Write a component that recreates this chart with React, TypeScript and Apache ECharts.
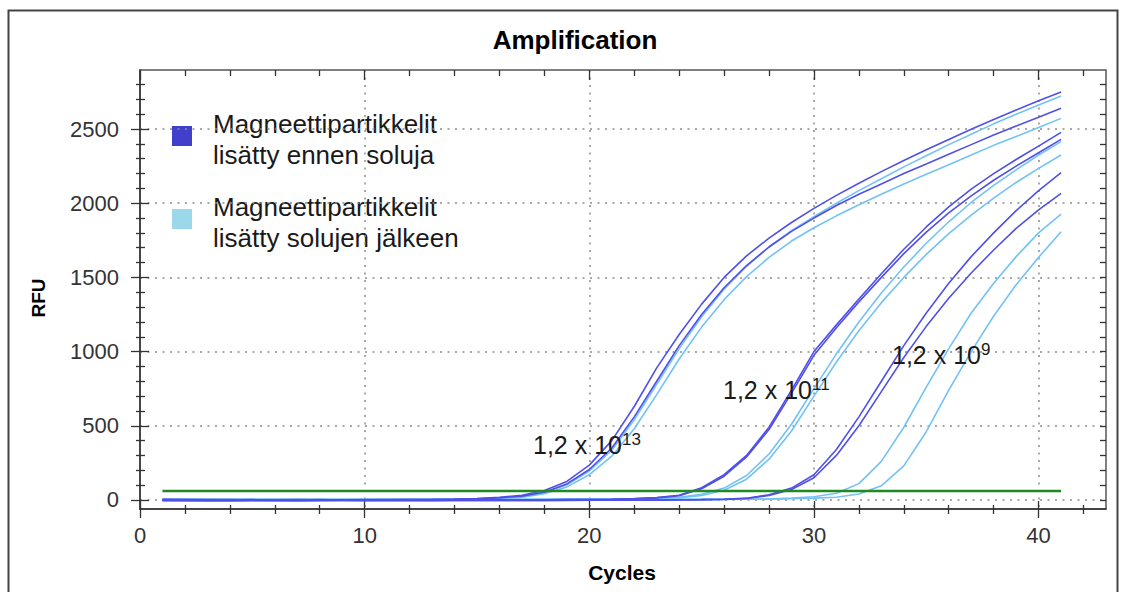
import { useEffect, useRef } from "react";
import * as echarts from "echarts";

const FONT = '"Liberation Sans", Arial, Helvetica, sans-serif';

// PCR cycles on the x axis
const CYCLES = [
  1, 2, 3, 4, 5, 6, 7, 8, 9, 10, 11, 12, 13, 14, 15, 16, 17, 18, 19, 20, 21,
  22, 23, 24, 25, 26, 27, 28, 29, 30, 31, 32, 33, 34, 35, 36, 37, 38, 39, 40, 41,
];

// Axis ticks and labels
const X_TICKS = [0, 10, 20, 30, 40];
const X_MINOR = [2, 4, 6, 8, 12, 14, 16, 18, 22, 24, 26, 28, 32, 34, 36, 38, 42];
const Y_TICKS = [0, 500, 1000, 1500, 2000, 2500];
const Y_MINOR = [
  100, 200, 300, 400, 600, 700, 800, 900, 1100, 1200, 1300, 1400, 1600, 1700,
  1800, 1900, 2100, 2200, 2300, 2400, 2600, 2700, 2800,
];
const Y_ALL = [
  0, 100, 200, 300, 400, 500, 600, 700, 800, 900, 1000, 1100, 1200, 1300, 1400,
  1500, 1600, 1700, 1800, 1900, 2000, 2100, 2200, 2300, 2400, 2500, 2600, 2700,
  2800,
];
const X_RANGE = [0, 43];
const Y_RANGE = [-61, 2898];

// Detection threshold (RFU)
const THRESHOLD = 60;

// Magnetic particles added before the cells (RFU per cycle)
const BEFORE_13A = [
  4, 2, 3, 1, 2, 0, 1, 2, 0, 1, 2, 3, 4, 6, 10, 18, 32, 64, 125, 235, 400, 630,
  890, 1115, 1320, 1500, 1645, 1765, 1870, 1965, 2053, 2135, 2213, 2288, 2360,
  2430, 2498, 2564, 2628, 2690, 2750,
];
const BEFORE_13B = [
  2, 3, 1, 2, 0, 1, 2, 0, 1, 2, 1, 2, 3, 5, 8, 14, 26, 52, 108, 205, 350, 560,
  800, 1040, 1250, 1430, 1580, 1705, 1810, 1900, 1985, 2060, 2130, 2200, 2265,
  2330, 2395, 2460, 2520, 2580, 2640,
];
const BEFORE_11A = [
  -3, -2, -4, -3, -2, -3, -2, -3, -2, -1, -2, -3, -2, -1, -2, -1, 0, 1, 2, 3, 5,
  9, 16, 32, 82, 170, 300, 490, 740, 1000, 1180, 1355, 1525, 1690, 1840, 1975,
  2095, 2200, 2295, 2385, 2478,
];
const BEFORE_11B = [
  -2, -3, -2, -4, -3, -2, -3, -2, -1, -2, -3, -2, -1, -2, -1, 0, 1, 0, 2, 2, 4,
  8, 14, 28, 75, 160, 290, 475, 720, 975, 1160, 1335, 1500, 1660, 1805, 1935,
  2050, 2155, 2250, 2340, 2430,
];
const BEFORE_9A = [
  -4, -3, -5, -4, -3, -4, -5, -4, -3, -4, -3, -4, -5, -4, -3, -4, -3, -2, -3,
  -2, -1, -2, -1, 0, 2, 5, 12, 35, 80, 170, 340, 560, 800, 1040, 1260, 1460,
  1640, 1800, 1950, 2085, 2206,
];
const BEFORE_9B = [
  -3, -4, -3, -5, -4, -3, -4, -3, -4, -5, -4, -3, -4, -3, -2, -3, -4, -3, -2,
  -1, -2, -1, 0, 1, 2, 4, 10, 30, 70, 150, 300, 500, 730, 960, 1170, 1360, 1530,
  1685, 1830, 1955, 2067,
];

// Magnetic particles added after the cells (RFU per cycle)
const AFTER_13A = [
  0, 1, 2, 0, 1, 2, 0, 1, 2, 0, 1, 2, 3, 4, 7, 12, 24, 50, 102, 195, 335, 540,
  780, 1020, 1235, 1420, 1575, 1705, 1815, 1910, 2000, 2085, 2165, 2245, 2320,
  2395, 2465, 2535, 2600, 2662, 2722,
];
const AFTER_13B = [
  1, 0, 1, 2, 1, 0, 1, 2, 1, 0, 1, 1, 2, 3, 5, 9, 19, 42, 88, 170, 295, 480,
  710, 950, 1165, 1350, 1505, 1635, 1745, 1835, 1915, 1990, 2060, 2130, 2195,
  2260, 2325, 2390, 2450, 2510, 2572,
];
const AFTER_11A = [
  2, 3, 1, 2, 3, 2, 1, 2, 3, 2, 1, 2, 3, 2, 2, 3, 3, 4, 4, 5, 6, 6, 10, 18, 38,
  80, 165, 310, 510, 750, 985, 1200, 1395, 1570, 1730, 1875, 2005, 2120, 2225,
  2325, 2415,
];
const AFTER_11B = [
  1, 2, 2, 1, 3, 2, 2, 1, 2, 3, 2, 2, 1, 2, 3, 2, 3, 3, 4, 4, 5, 5, 8, 14, 30,
  65, 140, 275, 465, 700, 930, 1140, 1330, 1500, 1655, 1795, 1920, 2035, 2140,
  2235, 2325,
];
const AFTER_9A = [
  3, 2, 4, 3, 2, 3, 4, 3, 2, 3, 4, 3, 2, 3, 3, 4, 3, 2, 3, 4, 3, 4, 3, 4, 4, 5,
  5, 6, 12, 22, 45, 110, 260, 490, 760, 1020, 1260, 1460, 1640, 1800, 1927,
];
const AFTER_9B = [
  2, 3, 2, 3, 4, 3, 2, 3, 2, 3, 4, 3, 2, 2, 3, 3, 2, 3, 4, 3, 3, 4, 3, 3, 4, 4,
  5, 5, 8, 12, 18, 40, 95, 230, 460, 740, 1000, 1240, 1450, 1635, 1808,
];

const BEFORE_NAME = "Magneettipartikkelit\nlisätty ennen soluja";
const AFTER_NAME = "Magneettipartikkelit\nlisätty solujen jälkeen";
const BEFORE_CURVES = [BEFORE_13A, BEFORE_13B, BEFORE_11A, BEFORE_11B, BEFORE_9A, BEFORE_9B];
const AFTER_CURVES = [AFTER_13A, AFTER_13B, AFTER_11A, AFTER_11B, AFTER_9A, AFTER_9B];

// Dilution labels: [mantissa text, exponent, left, centre y]
const DILUTIONS: [string, string, number, number][] = [
  ["1,2 x 10", "13", 533, 445],
  ["1,2 x 10", "11", 723, 390],
  ["1,2 x 10", "9", 892, 355],
];

const BEFORE_COLOR = "#5050e8";
const AFTER_COLOR = "#72c2f6";
const BEFORE_KEY = "#4040cc";
const AFTER_KEY = "#9ad8ea";
const TEXT = "#1a1a1a";
const AXIS = "#333333";

const gridLine = { color: "#8c8c8c", width: 1.5, type: [2, 5.5] as number[] };

function tickAxis(position: string, range: number[], values: number[], length: number, inside: boolean) {
  return {
    type: "value",
    position,
    min: range[0],
    max: range[1],
    axisLine: { show: false, onZero: false },
    axisLabel: { show: false },
    splitLine: { show: false },
    axisTick: { show: true, inside, length, customValues: values, lineStyle: { color: AXIS, width: 1.3 } },
  };
}

function curveSeries(name: string, values: number[], color: string) {
  return {
    type: "line",
    name,
    data: CYCLES.map((c, i) => [c, values[i]]),
    showSymbol: false,
    symbol: "none",
    silent: true,
    lineStyle: { color, width: 1.6 },
    itemStyle: { color },
    z: 3,
  };
}

function centred(text: string, x: number, y: number, fontSize: number, rotation = 0) {
  return {
    type: "text",
    x,
    y,
    rotation,
    style: {
      text,
      fill: "#000",
      fontSize,
      fontWeight: "bold",
      fontFamily: FONT,
      align: "center",
      verticalAlign: "middle",
      textAlign: "center",
      textVerticalAlign: "middle",
    },
  };
}

function buildOption() {
  const texts: any[] = [];
  // outer frame
  texts.push({
    type: "rect",
    shape: { x: 8.5, y: 10.5, width: 1109, height: 620 },
    style: { fill: "none", stroke: "#444", lineWidth: 2 },
    silent: true,
  });
  texts.push(centred("Amplification", 575, 40, 26));
  texts.push(centred("Cycles", 622, 572, 21));
  texts.push(centred("RFU", 38, 298, 19, Math.PI / 2));
  // legend keys
  const legendRows: [string, string, number][] = [
    [BEFORE_NAME, BEFORE_KEY, 126],
    [AFTER_NAME, AFTER_KEY, 209],
  ];
  legendRows.forEach(([label, color, top]) => {
    texts.push({
      type: "rect",
      shape: { x: 172, y: top, width: 20, height: 20 },
      style: { fill: color },
    });
    texts.push({
      type: "text",
      x: 213,
      y: top - 17.5,
      style: {
        text: label,
        fill: TEXT,
        fontSize: 26,
        lineHeight: 31,
        fontFamily: FONT,
        align: "left",
        verticalAlign: "top",
        textAlign: "left",
        textVerticalAlign: "top",
      },
    });
  });
  DILUTIONS.forEach(([mant, exp, left, cy]) => {
    texts.push({
      type: "text",
      x: left,
      y: cy,
      z: 10,
      style: {
        text: `{m|${mant}}{e|${exp}}`,
        align: "left",
        verticalAlign: "middle",
        textAlign: "left",
        textVerticalAlign: "middle",
        rich: {
          m: { fontSize: 25, lineHeight: 28, fontFamily: FONT, fill: TEXT },
          e: { fontSize: 17, lineHeight: 18, fontFamily: FONT, fill: TEXT, verticalAlign: "top" },
        },
      },
    });
  });

  const plain = (v: number) => String(v);

  return {
    animation: false,
    backgroundColor: "#ffffff",
    grid: { left: 140, top: 70, right: 21, bottom: 83, show: true, borderColor: "#555", borderWidth: 1.5 },
    xAxis: [
      {
        type: "value",
        position: "bottom",
        min: X_RANGE[0],
        max: X_RANGE[1],
        axisLine: { show: true, onZero: false, lineStyle: { color: AXIS, width: 1.5 } },
        axisTick: { show: true, length: 9, customValues: X_TICKS, lineStyle: { color: AXIS, width: 1.3 } },
        axisLabel: { customValues: X_TICKS, formatter: plain, fontSize: 22, fontFamily: FONT, color: AXIS, margin: 15 },
        splitLine: { show: true, lineStyle: gridLine },
      },
      tickAxis("bottom", X_RANGE, X_TICKS, 8, true),
      tickAxis("bottom", X_RANGE, X_MINOR, 5, false),
      tickAxis("bottom", X_RANGE, X_MINOR, 4, true),
      tickAxis("top", X_RANGE, X_TICKS, 10, true),
      tickAxis("top", X_RANGE, X_MINOR, 6, true),
    ],
    yAxis: [
      {
        type: "value",
        position: "left",
        min: Y_RANGE[0],
        max: Y_RANGE[1],
        axisLine: { show: true, onZero: false, lineStyle: { color: AXIS, width: 1.5 } },
        axisTick: { show: true, length: 9, customValues: Y_TICKS, lineStyle: { color: AXIS, width: 1.3 } },
        axisLabel: { customValues: Y_TICKS, formatter: plain, fontSize: 22, fontFamily: FONT, color: AXIS, margin: 21 },
        splitLine: { show: true, lineStyle: gridLine },
      },
      tickAxis("left", Y_RANGE, Y_TICKS, 9, true),
      tickAxis("left", Y_RANGE, Y_MINOR, 4, false),
      tickAxis("left", Y_RANGE, Y_MINOR, 5, true),
      tickAxis("right", Y_RANGE, Y_ALL, 6, true),
    ],
    graphic: texts,
    series: [
      ...AFTER_CURVES.map((v) => curveSeries(AFTER_NAME, v, AFTER_COLOR)),
      ...BEFORE_CURVES.map((v) => curveSeries(BEFORE_NAME, v, BEFORE_COLOR)),
      {
        type: "line",
        name: "Threshold",
        data: [
          [CYCLES[0], THRESHOLD],
          [CYCLES[CYCLES.length - 1], THRESHOLD],
        ],
        showSymbol: false,
        symbol: "none",
        silent: true,
        lineStyle: { color: "#1f8a1f", width: 2.5 },
        z: 5,
      },
    ],
  };
}

export default function App() {
  const ref = useRef<HTMLDivElement>(null);
  useEffect(() => {
    if (!ref.current) return;
    const chart = echarts.init(ref.current, null, { renderer: "svg" });
    chart.setOption(buildOption() as any);
    return () => chart.dispose();
  }, []);
  return (
    <div
      ref={ref}
      style={{ position: "fixed", left: 0, top: 0, width: 1127, height: 592, background: "#ffffff" }}
    />
  );
}
